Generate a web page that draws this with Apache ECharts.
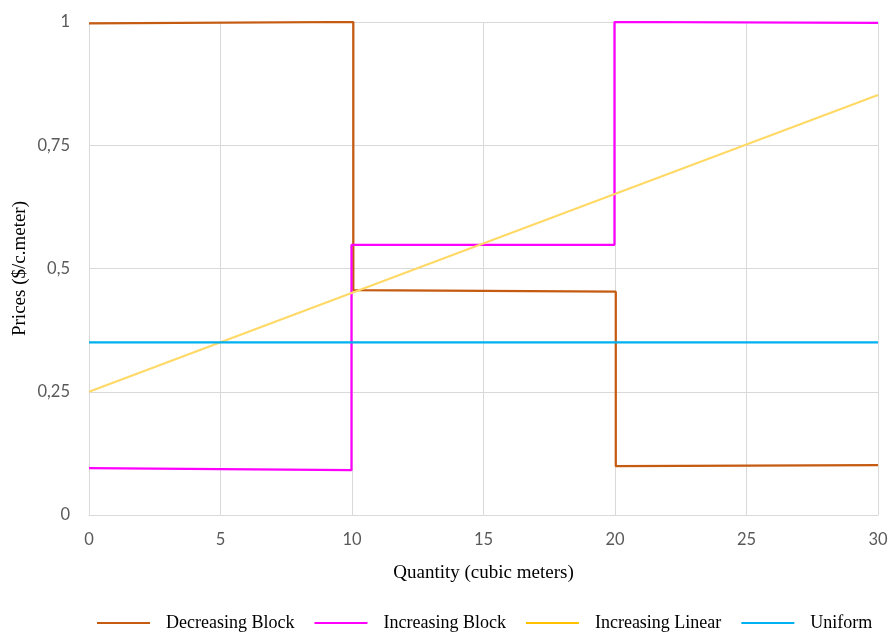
<!DOCTYPE html>
<html>
<head>
<meta charset="utf-8">
<script src="https://cdn.jsdelivr.net/npm/echarts@6/dist/echarts.min.js"></script>
<style>html,body{margin:0;padding:0;background:#fff;}#c{width:893px;height:635px;}</style>
</head>
<body>
<div id="c"></div>
<script>
var seriesNames = ['Decreasing Block', 'Increasing Block', 'Increasing Linear', 'Uniform'];
var decreasingBlock = [[0, 0.997], [10.05, 1.0], [10.05, 0.456], [20.03, 0.453], [20.03, 0.099], [30, 0.101]];
var increasingBlock = [[0, 0.095], [9.98, 0.091], [9.98, 0.548], [19.98, 0.548], [19.98, 1.0], [30, 0.998]];
var increasingLinear = [[0, 0.25], [30, 0.852]];
var uniform = [[0, 0.35], [30, 0.35]];
var xTicks = [0, 5, 10, 15, 20, 25, 30];
var yTicks = [0, 0.25, 0.5, 0.75, 1];

var chart = echarts.init(document.getElementById('c'), null, {renderer: 'canvas'});
var labelFont = 'Lato, "Open Sans", sans-serif';
var serif = '"Liberation Serif", "DejaVu Serif", serif';
function mk(name, data, color, width, lineColor) {
  return {
    name: name, type: 'line', data: data, showSymbol: false, symbol: 'none',
    animation: false,
    itemStyle: {color: color},
    lineStyle: {color: lineColor || color, width: width}
  };
}
chart.setOption({
  animation: false,
  grid: {left: 89, right: 15, top: 22, bottom: 120},
  legend: {
    top: 609, left: 92,
    itemWidth: 53, itemHeight: 14, itemGap: 20,
    data: seriesNames.map(function (n, i) {
      var cols = ['#C55A11', '#FF00FF', '#FFC000', '#00B0F0'];
      return {name: n, itemStyle: {color: cols[i]}, icon: 'path://M0,6 L53,6 L53,8 L0,8 Z'};
    }),
    textStyle: {fontFamily: serif, fontSize: 18, color: '#000', padding: [0, 0, 0, 11]}
  },
  xAxis: {
    type: 'value', min: 0, max: 30, interval: 5,
    name: 'Quantity (cubic meters)', nameLocation: 'middle', nameGap: 49,
    nameMoveOverlap: false,
    nameTextStyle: {fontFamily: serif, fontSize: 19, color: '#000'},
    axisLine: {show: true, lineStyle: {color: '#D9D9D9', width: 1}},
    axisTick: {show: false},
    axisLabel: {fontFamily: labelFont, fontSize: 16.5, color: '#595959', margin: 16,
      formatter: function (v) { return xTicks.indexOf(v) >= 0 ? String(v) : ''; }},
    splitLine: {show: true, lineStyle: {color: '#D9D9D9', width: 1}}
  },
  yAxis: {
    type: 'value', min: 0, max: 1, interval: 0.25,
    name: 'Prices ($/c.meter)', nameLocation: 'middle', nameGap: 59,
    nameMoveOverlap: false,
    nameTextStyle: {fontFamily: serif, fontSize: 19, color: '#000'},
    axisLine: {show: false}, axisTick: {show: false},
    axisLabel: {fontFamily: labelFont, fontSize: 16.5, color: '#595959', margin: 19,
      formatter: function (v) { return yTicks.indexOf(v) >= 0 ? String(v).replace('.', ',') : ''; }},
    splitLine: {show: true, lineStyle: {color: '#D9D9D9', width: 1}}
  },
  series: [
    mk(seriesNames[0], decreasingBlock, '#C55A11', 2.25),
    mk(seriesNames[1], increasingBlock, '#FF00FF', 2.25),
    mk(seriesNames[2], increasingLinear, '#FFC000', 2, '#FFD966'),
    mk(seriesNames[3], uniform, '#00B0F0', 2.25)
  ]
});
</script>
</body>
</html>
